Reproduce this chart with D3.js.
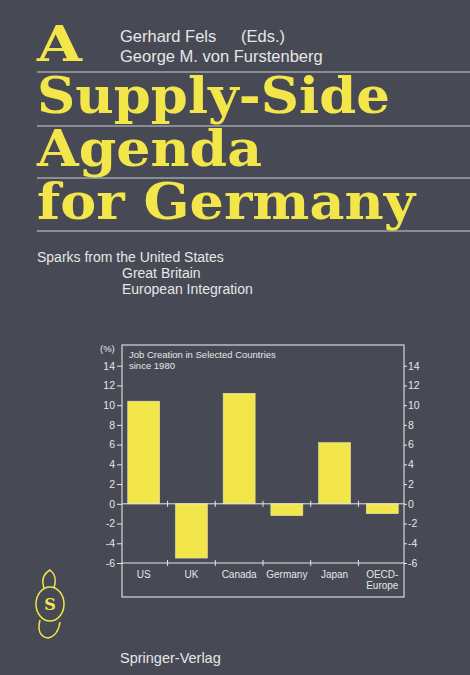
<!DOCTYPE html><html><head><meta charset="utf-8"><script src="https://cdn.jsdelivr.net/npm/d3@7"></script>
<style>body{margin:0;background:#474a54}</style></head><body><svg id="c" width="470" height="675"></svg>
<script>
const categories=["US","UK","Canada","Germany","Japan","OECD-|Europe"];
const values=[10.4,-5.5,11.2,-1.2,6.2,-1.0];
const ticks=[-6,-4,-2,0,2,4,6,8,10,12,14];
const svg=d3.select("#c");
const Y="#f2e64a",W="#e6e6e6";
svg.append("rect").attr("width",470).attr("height",675).attr("fill","#474a54");
[72,126,178,231].forEach(y=>svg.append("line").attr("x1",37).attr("x2",470).attr("y1",y).attr("y2",y).attr("stroke","#cfd0d4").attr("stroke-width",1));
const big=(t,x,y,w,fs)=>svg.append("text").attr("x",x).attr("y",y).attr("font-family","DejaVu Serif").attr("font-weight","bold").attr("font-size",fs).attr("fill",Y).attr("textLength",w).attr("lengthAdjust","spacingAndGlyphs").text(t);
big("A",37,61,45,48);
big("Supply-Side",37,113,353,50);
big("Agenda",37,166,225,50);
big("for Germany",37,219,378,50);
const txt=(t,x,y,fs,a)=>svg.append("text").attr("x",x).attr("y",y).attr("font-family","Liberation Sans").attr("font-size",fs).attr("fill",W).attr("text-anchor",a||"start").text(t);
txt("Gerhard Fels",120,42,16.5);
txt("(Eds.)",241,42,16.5);
txt("George M. von Furstenberg",120,62,16.5);
txt("Sparks from the United States",37,262,14);
txt("Great Britain",122,278,14);
txt("European Integration",122,294,14);
txt("Springer-Verlag",120,663,14.5);
const x=d3.scaleBand().domain(categories).range([122,404]).paddingInner(0.33).paddingOuter(0.12);
const y=d3.scaleLinear().domain([-6,14]).range([563,365.7]);
svg.append("rect").attr("x",122).attr("y",345).attr("width",282).attr("height",252).attr("fill","none").attr("stroke","#d8d8d8").attr("stroke-width",1.2);
svg.selectAll(".b").data(values).join("rect").attr("x",(d,i)=>x(categories[i])).attr("width",x.bandwidth())
 .attr("y",d=>y(Math.max(0,d))).attr("height",d=>Math.abs(y(d)-y(0))).attr("fill",Y).attr("stroke","#e8e4b0").attr("stroke-width",0.6);
const ax=(g,axis)=>{g.call(axis);g.select(".domain").remove();g.selectAll("line").attr("stroke",W);g.selectAll("text").attr("fill",W).attr("font-family","Liberation Sans").attr("font-size",10.5);};
const fmt=d=>String(d);
svg.append("g").attr("transform","translate(122,0)").call(g=>ax(g,d3.axisLeft(y).tickValues(ticks).tickSize(5).tickPadding(2).tickFormat(fmt)));
svg.append("g").attr("transform","translate(404,0)").call(g=>ax(g,d3.axisRight(y).tickValues(ticks).tickSize(3).tickPadding(1).tickFormat(fmt)));
[0,-6].forEach(v=>svg.append("line").attr("x1",122).attr("x2",404).attr("y1",y(v)).attr("y2",y(v)).attr("stroke",W).attr("stroke-width",1));
[0,-6].forEach(v=>categories.slice(1).forEach(c=>{const xx=x(c)-x.step()*x.paddingInner()/2;svg.append("line").attr("x1",xx).attr("x2",xx).attr("y1",y(v)-3).attr("y2",y(v)+3).attr("stroke",W);}));
categories.forEach(c=>c.split("|").forEach((s,k)=>txt(s,x(c)+x.bandwidth()/2,578+k*11,10,"middle")));
txt("(%)",100,352,9.5);
txt("Job Creation in Selected Countries",129,358,9.5);
txt("since 1980",129,369,9.5);
const lg=svg.append("g").attr("fill","none").attr("stroke",Y).attr("stroke-width",1.5);
lg.append("ellipse").attr("cx",50).attr("cy",604).attr("rx",14).attr("ry",17);
lg.append("path").attr("d","M44 588 Q40 576 50 570 Q58 576 54 588 M40 620 Q36 636 48 638 Q58 636 60 622");
svg.append("text").attr("x",50).attr("y",610).attr("text-anchor","middle").attr("font-family","DejaVu Serif").attr("font-weight","bold").attr("font-size",16).attr("fill",Y).text("S");
</script></body></html>
